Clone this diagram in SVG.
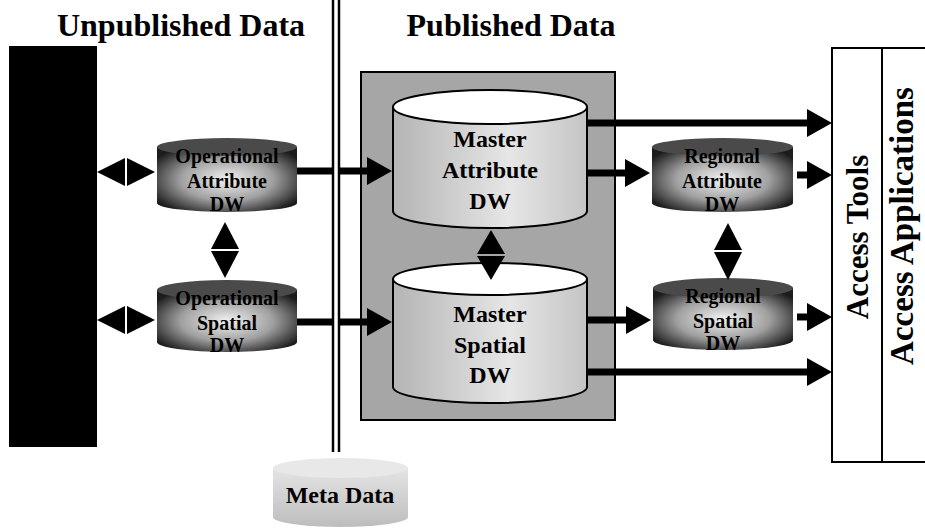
<svg xmlns="http://www.w3.org/2000/svg" width="925" height="529" viewBox="0 0 925 529">
  <style>
    .title { font-family: "Liberation Serif", "Times New Roman", serif; font-weight: bold; font-size: 32px; fill: #000; text-anchor: middle; }
    .big { font-family: "Liberation Serif", "Times New Roman", serif; font-weight: bold; font-size: 24px; fill: #000; text-anchor: middle; }
    .small { font-family: "Liberation Serif", "Times New Roman", serif; font-weight: bold; font-size: 20px; fill: #000; text-anchor: middle; }
    .vert { font-family: "Liberation Serif", "Times New Roman", serif; font-weight: bold; fill: #000; text-anchor: middle; }
    .shaft { stroke: #000; stroke-width: 7; fill: none; }
    .head { fill: #000; }
    .opBody { fill: url(#opGrad); }
    .opTop { fill: #4a4a4a; }
    .mBody { fill: url(#mGrad); stroke: #000; stroke-width: 2; }
    .mTop { fill: #fff; stroke: #000; stroke-width: 2; }
  </style>
  <defs>
    <radialGradient id="opGrad" cx="50%" cy="50%" r="60%">
      <stop offset="0" stop-color="#f2f2f2"/>
      <stop offset="0.55" stop-color="#a0a0a0"/>
      <stop offset="1" stop-color="#1c1c1c"/>
    </radialGradient>
    <linearGradient id="mGrad" x1="0" y1="0" x2="1" y2="0">
      <stop offset="0" stop-color="#b4b4b4"/>
      <stop offset="0.6" stop-color="#e6e6e6"/>
      <stop offset="1" stop-color="#c4c4c4"/>
    </linearGradient>
    <linearGradient id="metaGrad" x1="0" y1="0" x2="0" y2="1">
      <stop offset="0" stop-color="#e4e4e4"/>
      <stop offset="1" stop-color="#bdbdbd"/>
    </linearGradient>
    <marker id="arrow" markerUnits="userSpaceOnUse" markerWidth="26" markerHeight="28" refX="1" refY="14" orient="auto">
      <path d="M0,0 L25,14 L0,28 Z" fill="#000"/>
    </marker>
  </defs>

  <!-- headings -->
  <text class="title" x="181" y="36">Unpublished Data</text>
  <text class="title" x="511" y="36">Published Data</text>

  <!-- source systems block -->
  <rect id="sources" x="9" y="46" width="88" height="401" fill="#000"/>

  <!-- published area panel -->
  <rect id="published-panel" x="361" y="72" width="254" height="348" fill="#a6a6a6" stroke="#000" stroke-width="2"/>

  <!-- operational attribute DW -->
  <g id="op-attribute">
    <path class="opBody" d="M157,147 L157,203 A70,9 0 0 0 297,203 L297,147 Z"/>
    <ellipse class="opTop" cx="227" cy="147" rx="70" ry="9"/>
    <text class="small" x="227" y="163">Operational</text>
    <text class="small" x="227" y="188">Attribute</text>
    <text class="small" x="227" y="211">DW</text>
  </g>

  <!-- operational spatial DW -->
  <g id="op-spatial">
    <path class="opBody" d="M157,290 L157,342 A70,10 0 0 0 297,342 L297,290 Z"/>
    <ellipse class="opTop" cx="227" cy="290" rx="70" ry="10"/>
    <text class="small" x="227" y="305">Operational</text>
    <text class="small" x="227" y="330">Spatial</text>
    <text class="small" x="227" y="352">DW</text>
  </g>

  <!-- master attribute DW -->
  <g id="master-attribute">
    <path class="mBody" d="M393,107 L393,211 A97,17 0 0 0 587,211 L587,107 Z"/>
    <ellipse class="mTop" cx="490" cy="107" rx="97" ry="17"/>
    <text class="big" x="490" y="147">Master</text>
    <text class="big" x="490" y="178">Attribute</text>
    <text class="big" x="490" y="209">DW</text>
  </g>

  <!-- master spatial DW -->
  <g id="master-spatial">
    <path class="mBody" d="M393,279 L393,387 A97,16 0 0 0 587,387 L587,279 Z"/>
    <ellipse class="mTop" cx="490" cy="279" rx="97" ry="16"/>
    <text class="big" x="490" y="322">Master</text>
    <text class="big" x="490" y="353">Spatial</text>
    <text class="big" x="490" y="383">DW</text>
  </g>

  <!-- regional attribute DW -->
  <g id="reg-attribute">
    <path class="opBody" d="M652,147 L652,203 A70,9 0 0 0 793,203 L793,147 Z"/>
    <ellipse class="opTop" cx="722.5" cy="147" rx="70.5" ry="9"/>
    <text class="small" x="722" y="163">Regional</text>
    <text class="small" x="722" y="188">Attribute</text>
    <text class="small" x="722" y="211">DW</text>
  </g>

  <!-- regional spatial DW -->
  <g id="reg-spatial">
    <path class="opBody" d="M653,288 L653,340 A70,10 0 0 0 793,340 L793,288 Z"/>
    <ellipse class="opTop" cx="723" cy="288" rx="70" ry="10"/>
    <text class="small" x="723" y="303">Regional</text>
    <text class="small" x="723" y="328">Spatial</text>
    <text class="small" x="723" y="350">DW</text>
  </g>

  <!-- access tools / applications -->
  <g id="access">
    <rect x="832" y="48" width="110" height="414" fill="#fff" stroke="#000" stroke-width="2"/>
    <line x1="882" y1="48" x2="882" y2="462" stroke="#000" stroke-width="2"/>
    <text class="vert" font-size="31" transform="translate(868,237) rotate(-90)">Access Tools</text>
    <text class="vert" font-size="33" transform="translate(913,226) rotate(-90)">Access Applications</text>
  </g>

  <!-- meta data -->
  <g id="meta-data">
    <path d="M273,468 L273,517 A67.5,10 0 0 0 408,517 L408,468 Z" fill="url(#metaGrad)"/>
    <ellipse cx="340.5" cy="468" rx="67.5" ry="10" fill="#e8e8e8"/>
    <text class="big" x="340" y="503">Meta Data</text>
  </g>

  <!-- connectors -->
  <g id="connectors">
    <!-- operational to master -->
    <line class="shaft" x1="297" y1="171" x2="368" y2="171" marker-end="url(#arrow)"/>
    <line class="shaft" x1="297" y1="322" x2="368" y2="322" marker-end="url(#arrow)"/>
    <!-- master to access tools -->
    <line class="shaft" x1="587" y1="123" x2="808" y2="123" marker-end="url(#arrow)"/>
    <line class="shaft" x1="587" y1="372" x2="808" y2="372" marker-end="url(#arrow)"/>
    <!-- master to regional -->
    <line class="shaft" x1="587" y1="173" x2="626" y2="173" marker-end="url(#arrow)"/>
    <line class="shaft" x1="587" y1="320" x2="627" y2="320" marker-end="url(#arrow)"/>
    <!-- regional to access tools -->
    <line class="shaft" x1="797" y1="175" x2="808" y2="175" marker-end="url(#arrow)"/>
    <line class="shaft" x1="797" y1="317" x2="808" y2="317" marker-end="url(#arrow)"/>
    <!-- sources to operational (two-way) -->
    <polygon class="head" points="97,172 125,158 125,186"/>
    <polygon class="head" points="155,172 127,158 127,186"/>
    <polygon class="head" points="97,320 125,306 125,334"/>
    <polygon class="head" points="155,320 127,306 127,334"/>
    <!-- operational attribute to operational spatial (two-way) -->
    <polygon class="head" points="225,222 239,249 211,249"/>
    <polygon class="head" points="225,278 239,251 211,251"/>
    <!-- master attribute to master spatial (two-way) -->
    <polygon class="head" points="491,230 505,254 477,254"/>
    <polygon class="head" points="491,280 505,256 477,256"/>
    <!-- regional attribute to regional spatial (two-way) -->
    <polygon class="head" points="728,223 742,250 714,250"/>
    <polygon class="head" points="728,280 742,252 714,252"/>
  </g>

  <!-- boundary between unpublished and published data -->
  <g id="boundary">
    <rect x="333" y="0" width="6" height="452" fill="#fff"/>
    <line x1="333" y1="0" x2="333" y2="452" stroke="#000" stroke-width="2.5"/>
    <line x1="339" y1="0" x2="339" y2="452" stroke="#000" stroke-width="2.5"/>
  </g>
</svg>
